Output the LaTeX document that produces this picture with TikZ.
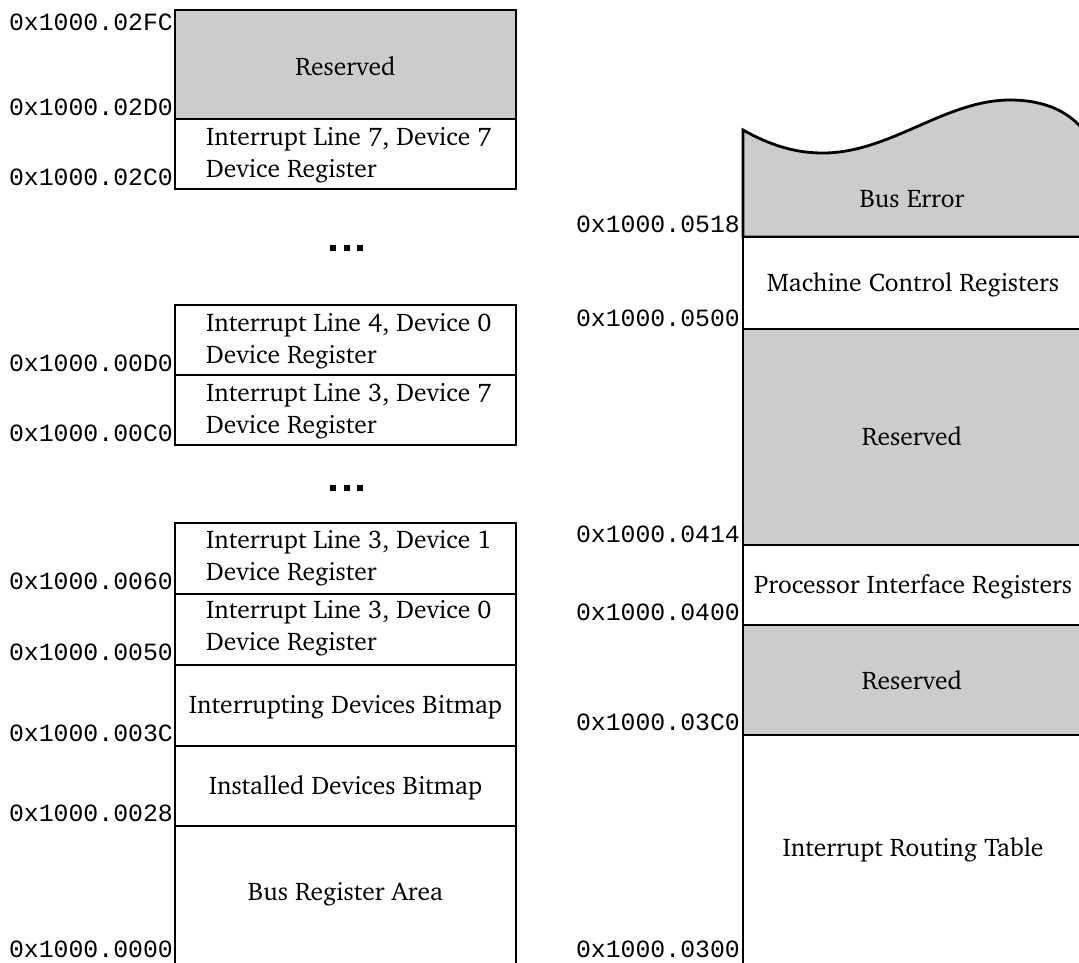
\documentclass[tikz,border=0pt]{standalone}
\usepackage{fontspec}
\newfontfamily\addrfont{Liberation Mono}
\usepackage[T1]{fontenc}
\usepackage{charter}
\begin{document}
\begin{tikzpicture}[x=1pt,y=-1pt,
  region/.style={draw=black,line width=2.8pt},
  resv/.style={region,fill=black!20},
  free/.style={region,fill=white},
  caption/.style={inner sep=0pt,font=\rmfamily\fontsize{25.5}{32}\selectfont},
  twoline/.style={caption,align=left,anchor=west},
  addr/.style={inner sep=0pt,anchor=east,font=\addrfont\fontsize{24.8}{25}\selectfont},
  dotmark/.style={fill=black,minimum size=6pt,inner sep=0pt}]
\useasboundingbox (0,0) rectangle (1079,962);
\clip (0,0) rectangle (1079,962);

% ---------- left column ----------
\path[resv] (175,10) rectangle (516,119);
\path[free] (175,119) rectangle (516,189);
\path[free] (175,305) rectangle (516,375);
\path[free] (175,375) rectangle (516,445);
\path[free] (175,523) rectangle (516,594);
\path[free] (175,594) rectangle (516,665);
\path[free] (175,665) rectangle (516,746);
\path[free] (175,746) rectangle (516,826);
\draw[region] (175,970) -- (175,826) -- (516,826) -- (516,970);

\node[caption,anchor=base] (resTop) at (345.5,75) {Reserved};
\node[twoline] (l7d7) at (206,155) {Interrupt Line 7, Device 7\\Device Register};
\node[twoline] (l4d0) at (206,341) {Interrupt Line 4, Device 0\\Device Register};
\node[twoline] (l3d7) at (206,411) {Interrupt Line 3, Device 7\\Device Register};
\node[twoline] (l3d1) at (206,558) {Interrupt Line 3, Device 1\\Device Register};
\node[twoline] (l3d0) at (206,628) {Interrupt Line 3, Device 0\\Device Register};
\node[caption,anchor=base] (intbm) at (345.5,713) {Interrupting Devices Bitmap};
\node[caption,anchor=base] (instbm) at (345.5,794) {Installed Devices Bitmap};
\node[caption,anchor=base] (busreg) at (345.5,900) {Bus Register Area};

% elision marks
\foreach \yy [count=\k] in {248,488}{
  \node[dotmark] (dotA\k) at (333,\yy) {};
  \node[dotmark] (dotB\k) at (346.5,\yy) {};
  \node[dotmark] (dotC\k) at (360,\yy) {};
}

\node[addr] (a02FC) at (173,22)  {0x1000.02FC};
\node[addr] (a02D0) at (173,107) {0x1000.02D0};
\node[addr] (a02C0) at (173,177) {0x1000.02C0};
\node[addr] (a00D0) at (173,363) {0x1000.00D0};
\node[addr] (a00C0) at (173,433) {0x1000.00C0};
\node[addr] (a0060) at (173,581) {0x1000.0060};
\node[addr] (a0050) at (173,652) {0x1000.0050};
\node[addr] (a003C) at (173,733) {0x1000.003C};
\node[addr] (a0028) at (173,813) {0x1000.0028};
\node[addr] (a0000) at (173,949) {0x1000.0000};

% ---------- right column ----------
\path[resv] (743,237) -- (743,130)
  .. controls (775,148) and (800,153) .. (823,153)
  .. controls (890,153) and (945,100) .. (1010,100)
  .. controls (1045,100) and (1070,112) .. (1085,132)
  -- (1085,237) -- cycle;
\path[free] (743,237) rectangle (1085,329);
\path[resv] (743,329) rectangle (1085,545);
\path[free] (743,545) rectangle (1085,625);
\path[resv] (743,625) rectangle (1085,735);
\draw[region] (743,970) -- (743,735) -- (1085,735);

\node[caption,anchor=base] (buserr) at (912,207) {Bus Error};
\node[caption,anchor=base] (mcr) at (913,291) {Machine Control Registers};
\node[caption,anchor=base] (resMid) at (912,445) {Reserved};
\node[caption,anchor=base] (pir) at (913,593) {Processor Interface Registers};
\node[caption,anchor=base] (resLow) at (912,689) {Reserved};
\node[caption,anchor=base] (irt) at (913,856) {Interrupt Routing Table};

\node[addr] (a0518) at (740,224) {0x1000.0518};
\node[addr] (a0500) at (740,318) {0x1000.0500};
\node[addr] (a0414) at (740,534) {0x1000.0414};
\node[addr] (a0400) at (740,612) {0x1000.0400};
\node[addr] (a03C0) at (740,722) {0x1000.03C0};
\node[addr] (a0300) at (740,949) {0x1000.0300};
\end{tikzpicture}
\end{document}
